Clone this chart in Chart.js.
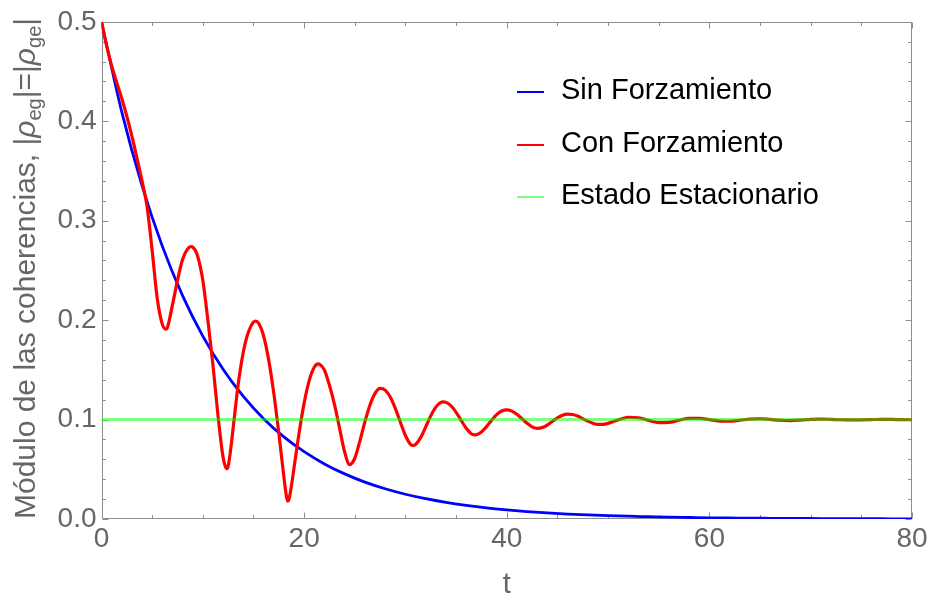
<!DOCTYPE html>
<html><head><meta charset="utf-8">
<script src="https://cdn.jsdelivr.net/npm/chart.js@4.4.1/dist/chart.umd.min.js"></script>
<style>html,body{margin:0;padding:0;background:#fff}canvas{display:block}</style>
</head><body>
<canvas id="c" width="932" height="600"></canvas>
<script>
// ---- data ----
const T_RED = [
  0,0.5,1,1.5,2,2.5,3,3.5,4,4.5,
  5,5.5,6,6.35,6.5,7,7.5,8,8.5,8.83,
  9,9.5,10,10.5,11,11.5,12,12.25,12.35,12.5,
  12.75,13,13.5,14,14.5,15,15.2,15.5,16,16.5,
  17,17.5,18,18.25,18.4,18.5,18.75,19,19.5,20,
  20.5,21,21.4,21.5,22,22.5,23,23.5,24,24.5,
  25,25.5,26,26.5,27,27.5,28,28.5,29,29.5,
  30,30.5,30.75,31,31.5,32,32.5,33,33.5,33.75,
  34,34.5,35,35.5,36,36.5,36.85,37,37.5,38,
  38.5,39,39.5,40,40.5,41,41.5,42,42.5,43,
  43.5,44,44.5,45,45.5,46,46.5,47,47.5,48,
  48.5,49,49.5,50,51,52,53,54,55,56,
  57,58,59,60,61,62,63,64,65,66,
  67,68,69,70,71,72,73,74,75,76,
  77,78,79,80
];
const RED = [
  0.500,0.476,0.456,0.439,0.423,0.405,0.385,0.363,0.340,0.314,
  0.270,0.222,0.196,0.191,0.1925,0.215,0.240,0.261,0.2717,0.274,
  0.2735,0.264,0.240,0.200,0.155,0.104,0.062,0.052,0.0506,0.053,
  0.070,0.092,0.136,0.168,0.188,0.198,0.199,0.1969,0.184,0.160,
  0.127,0.0866,0.0426,0.023,0.018,0.0198,0.0335,0.0512,0.0863,0.1165,
  0.1392,0.1526,0.156,0.1558,0.1499,0.1345,0.1150,0.0912,0.0674,0.0547,
  0.0611,0.0783,0.0978,0.1147,0.1263,0.1313,0.1296,0.1227,0.1113,0.0974,
  0.0840,0.0751,0.0739,0.0749,0.0818,0.0926,0.1037,0.1125,0.1172,0.1178,
  0.1173,0.1138,0.1073,0.0992,0.0912,0.0857,0.0845,0.0847,0.0875,0.0929,
  0.0992,0.1049,0.1086,0.1098,0.1085,0.1053,0.1009,0.0963,0.0927,0.0912,
  0.0920,0.0945,0.0981,0.1016,0.1043,0.1055,0.1051,0.1035,0.1010,0.0984,
  0.0963,0.0951,0.0952,0.0962,0.0997,0.1023,0.1018,0.0992,0.0970,0.0972,
  0.0993,0.1012,0.1013,0.0999,0.0985,0.0983,0.0993,0.1005,0.1008,0.1001,
  0.0993,0.0990,0.0995,0.1002,0.1005,0.1002,0.0998,0.0996,0.0997,0.1000,
  0.1002,0.1001,0.0999,0.0998
];
const T_BLUE = [0,2,4,6,8,10,12,14,16,18,20,22,24,26,28,30,32,34,36,38,40,
  42,44,46,48,50,52,54,56,58,60,62,64,66,68,70,72,74,76,78,80];
const BLUE = [0.5,0.4094,0.3352,0.2744,0.2247,0.1839,0.1506,0.1233,0.1009,0.0826,0.0677,
  0.0554,0.0454,0.0371,0.0304,0.0249,0.0204,0.0167,0.0137,0.0112,0.0092,
  0.0075,0.0061,0.0050,0.0041,0.0034,0.0028,0.0023,0.0018,0.0015,0.0012,
  0.0010,0.0008,0.0007,0.0006,0.0005,0.0004,0.0003,0.0003,0.0002,0.0002];
const T_STEADY = [0, 80];
const STEADY = [0.1, 0.1];
const X_TICKS = [0, 20, 40, 60, 80];
const Y_TICKS = [0, 0.1, 0.2, 0.3, 0.4, 0.5];
const SERIES_NAMES = ['Sin Forzamiento', 'Con Forzamiento', 'Estado Estacionario'];
const SERIES_COLORS = ['rgb(0,0,255)', 'rgb(255,0,0)', 'rgba(0,255,0,0.5)'];

const FONT = "'Liberation Sans', Arial, Helvetica, sans-serif";
const GRAY = '#666666';
const FRAME = '#8e8e8e';

const pts = (ts, vs) => ts.map((t, i) => ({x: t, y: vs[i]}));

const framePlugin = {
  id: 'frame',
  beforeDatasetsDraw(chart) {
    const {ctx, chartArea: a, scales: {x, y}} = chart;
    ctx.save();
    ctx.strokeStyle = FRAME;
    ctx.lineWidth = 1;
    const L = Math.round(a.left) + 0.5, R = Math.round(a.right) - 0.5;
    const T = Math.round(a.top) + 0.5, B = Math.round(a.bottom) - 0.5;
    ctx.beginPath();
    ctx.rect(L, T, R - L, B - T);
    for (let m = 0; m <= 80; m += 5) {
      const px = Math.round(x.getPixelForValue(m)) + 0.5;
      const len = (m % 20 === 0) ? 6 : 3.5;
      ctx.moveTo(px, B); ctx.lineTo(px, B - len);
      ctx.moveTo(px, T); ctx.lineTo(px, T + len);
    }
    for (let k = 0; k <= 25; k++) {
      const v = k * 0.02;
      const py = Math.round(y.getPixelForValue(v)) + 0.5;
      const len = (k % 5 === 0) ? 6 : 3.5;
      ctx.moveTo(L, py); ctx.lineTo(L + len, py);
      ctx.moveTo(R, py); ctx.lineTo(R - len, py);
    }
    ctx.stroke();
    ctx.restore();
  },
  afterDraw(chart) {
    const ctx = chart.ctx;
    ctx.save();
    // y-axis title (rotated, with subscripts)
    const big = '30px ' + FONT, bigI = 'italic 30px ' + FONT, sub = '20px ' + FONT;
    const pieces = [
      {t: 'Módulo de las coherencias, |', f: big, dy: 0},
      {t: 'ρ', f: bigI, dy: 0},
      {t: 'eg', f: sub, dy: 6},
      {t: '|=|', f: big, dy: 0},
      {t: 'ρ', f: bigI, dy: 0},
      {t: 'ge', f: sub, dy: 6},
      {t: '|', f: big, dy: 0}
    ];
    let total = 0;
    pieces.forEach(p => { ctx.font = p.f; p.w = ctx.measureText(p.t).width; total += p.w; });
    ctx.translate(35, 268.5);
    ctx.rotate(-Math.PI / 2);
    ctx.fillStyle = GRAY;
    ctx.textBaseline = 'alphabetic';
    ctx.textAlign = 'left';
    let cx = -total / 2;
    pieces.forEach(p => { ctx.font = p.f; ctx.fillText(p.t, cx, p.dy); cx += p.w; });
    ctx.setTransform(1, 0, 0, 1, 0, 0);
    // x-axis title
    ctx.font = '29px ' + FONT;
    ctx.textAlign = 'center';
    ctx.fillText('t', (chart.chartArea.left + chart.chartArea.right) / 2, 593);
    // legend
    const ly = [92, 145, 197];
    const by = [99, 152, 204];
    ctx.textAlign = 'left';
    ctx.fillStyle = '#000';
    ctx.font = '29px ' + FONT;
    SERIES_NAMES.forEach((name, i) => {
      ctx.strokeStyle = SERIES_COLORS[i];
      ctx.lineWidth = 2;
      ctx.beginPath(); ctx.moveTo(517, ly[i]); ctx.lineTo(544, ly[i]); ctx.stroke();
      ctx.fillText(name, 561, by[i]);
    });
    ctx.restore();
  }
};

new Chart(document.getElementById('c'), {
  type: 'line',
  data: {
    datasets: [
      {label: SERIES_NAMES[0], data: pts(T_BLUE, BLUE), borderColor: SERIES_COLORS[0], borderWidth: 2.8,
       pointRadius: 0, cubicInterpolationMode: 'monotone', order: 3, fill: false},
      {label: SERIES_NAMES[1], data: pts(T_RED, RED), borderColor: SERIES_COLORS[1], borderWidth: 3.2,
       pointRadius: 0, cubicInterpolationMode: 'monotone', order: 2, fill: false},
      {label: SERIES_NAMES[2], data: pts(T_STEADY, STEADY), borderColor: SERIES_COLORS[2], borderWidth: 3,
       pointRadius: 0, tension: 0, order: 1, fill: false}
    ]
  },
  options: {
    responsive: false,
    animation: false,
    devicePixelRatio: 1,
    layout: {padding: {top: 18, right: 20, left: 0, bottom: 0}},
    plugins: {legend: {display: false}, tooltip: {enabled: false}},
    scales: {
      x: {
        type: 'linear', min: 0, max: 80,
        afterBuildTicks: s => { s.ticks = X_TICKS.map(v => ({value: v})); },
        afterFit: s => { s.height = 81; },
        grid: {display: false, drawTicks: false},
        border: {display: false},
        ticks: {color: GRAY, font: {family: FONT, size: 28}, padding: 3, maxRotation: 0,
                callback: v => String(v)}
      },
      y: {
        type: 'linear', min: 0, max: 0.5,
        afterBuildTicks: s => { s.ticks = Y_TICKS.map(v => ({value: v})); },
        afterFit: s => { s.width = 101.5; },
        grid: {display: false, drawTicks: false},
        border: {display: false},
        ticks: {color: GRAY, font: {family: FONT, size: 28}, padding: 5,
                callback: v => Number(v).toFixed(1)}
      }
    }
  },
  plugins: [framePlugin]
});
</script>
</body></html>
